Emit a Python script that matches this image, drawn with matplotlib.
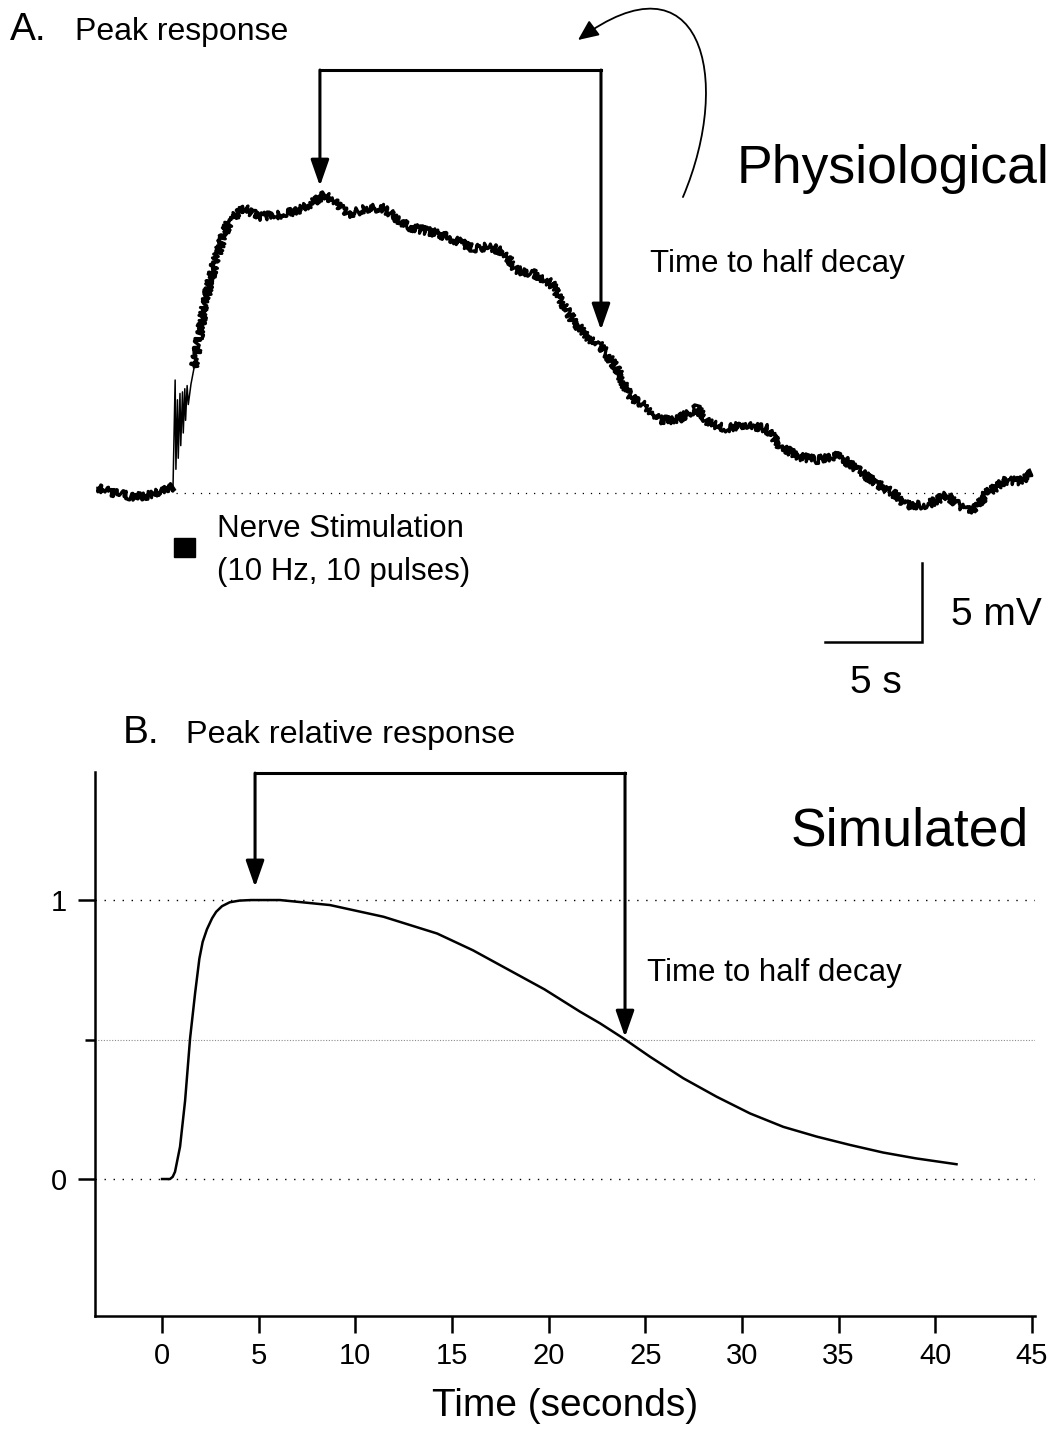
import matplotlib
matplotlib.use("Agg")
import matplotlib.pyplot as plt
from matplotlib.patches import Rectangle, FancyArrowPatch
from matplotlib.path import Path

plt.rcParams['font.family'] = ['Liberation Sans', 'DejaVu Sans']

W, H = 1057, 1434

# A. recorded response (time in s, potential in mV above baseline)
trace_t = [-3.32, -2.40, -1.47, -0.55, 0.19, 0.57, 0.68, 0.72, 0.80, 0.84,
           0.93, 0.97, 1.06, 1.10, 1.18, 1.22, 1.30, 1.36, 1.50, 1.67,
           2.04, 2.41, 2.78, 3.15, 3.52, 4.26, 5.00, 5.92, 6.84, 7.77,
           8.41, 9.06, 9.62, 10.54, 11.46, 12.02, 12.76, 14.23, 15.16, 16.08,
           17.00, 17.74, 18.30, 19.22, 20.14, 20.70, 21.26, 21.99, 22.73, 23.47,
           24.21, 25.08, 25.76, 26.63, 27.66, 28.35, 29.21, 30.07, 31.28, 31.97,
           33.01, 33.87, 34.99, 35.76, 36.97, 37.83, 38.53, 39.56, 40.59, 41.28,
           41.97, 42.66, 43.70, 44.39, 44.99]
trace_mv = [0.30, -0.02, -0.23, -0.13, 0.19, 0.40, 7.15, 1.50, 5.90, 2.20,
            6.30, 3.00, 6.40, 3.80, 6.60, 4.60, 6.80, 5.60, 6.90, 7.99,
            10.76, 13.06, 14.75, 16.22, 17.28, 18.02, 17.49, 17.59, 17.80, 18.34,
            18.86, 18.34, 17.59, 18.02, 18.02, 17.49, 16.85, 16.44, 16.01, 15.49,
            15.59, 15.17, 14.11, 13.91, 13.27, 12.01, 10.95, 9.89, 9.26, 7.99,
            6.09, 5.46, 4.62, 4.62, 5.36, 4.41, 4.09, 4.30, 4.09, 2.93,
            2.30, 2.09, 2.41, 1.66, 0.61, -0.02, -0.76, -0.76, -0.13, -0.87,
            -1.18, -0.02, 0.82, 0.72, 1.25]

stim_start = 0.6    # nerve stimulation, 10 Hz, 10 pulses
stim_dur = 1.1
stim_end = 1.67     # last point of the stimulus artefacts in the trace
baseline_end = 42.4

# B. simulated relative response
sim_t = [0.0, 0.41, 0.55, 0.67, 0.93, 1.19, 1.45, 1.71, 1.93, 2.1,
         2.32, 2.59, 2.8, 3.1, 3.5, 4.0, 4.6, 6.1, 8.69, 11.46,
         14.23, 16.08, 17.93, 19.78, 21.62, 22.66, 23.87, 25.25, 26.97, 28.69,
         30.42, 32.14, 33.87, 35.6, 37.3, 39.0, 41.1]
sim_v = [0.0, 0.0, 0.008, 0.026, 0.116, 0.28, 0.505, 0.667, 0.79, 0.85,
         0.895, 0.935, 0.958, 0.978, 0.992, 0.998, 1.0, 1.0, 0.982, 0.94,
         0.88, 0.82, 0.75, 0.68, 0.60, 0.558, 0.504, 0.438, 0.361, 0.295,
         0.235, 0.187, 0.152, 0.122, 0.095, 0.074, 0.053]

# arrow positions (peak / time to half decay)
peak_a = (8.17, 19.43)
half_a = (22.71, 10.32)
top_a = 26.77
peak_b = (4.81, 1.047)
half_b = (23.95, 0.509)
top_b = 1.455


def fpos(x, y):
    # pixel position -> figure fraction
    return x / W, 1 - y / H


def bracket(ax, p1, p2, top):
    ax.plot([p1[0], p2[0]], [top, top], color='black', lw=2.2,
            solid_capstyle='projecting', clip_on=False)
    for x, tip in (p1, p2):
        ax.annotate('', xy=(x, tip), xytext=(x, top), annotation_clip=False,
                    arrowprops=dict(arrowstyle='-|>,head_length=0.8,head_width=0.28',
                                    mutation_scale=20, lw=2.2, color='black',
                                    shrinkA=0, shrinkB=0))


fig = plt.figure(figsize=(W / 100, H / 100), dpi=100)

# ---- panel A ----
axA = fig.add_axes([0, 1 - 720 / H, 1, 720 / H])
axA.set_xlim(-162 / 19.33, (W - 162) / 19.33)
axA.set_ylim((493 - 720) / 15.8, 493 / 15.8)
axA.axis('off')

i0 = trace_t.index(stim_start - 0.03)
i1 = trace_t.index(stim_end)
# noisy recording
for sl in (slice(0, i0 + 1), slice(i1, None)):
    ln, = axA.plot(trace_t[sl], trace_mv[sl], color='black', lw=2.3)
    ln.set_sketch_params(scale=4.0, length=1.0, randomness=3)
# stimulus artefacts
axA.plot(trace_t[i0:i1 + 1], trace_mv[i0:i1 + 1], color='black', lw=1.1)

axA.hlines(0, stim_start + 0.1, baseline_end, colors='black', lw=0.9,
           linestyles=(0, (1, 5.5)))
axA.add_patch(Rectangle((stim_start, -4.05), stim_dur, 1.2, color='black'))

bracket(axA, peak_a, half_a, top_a)

curve = Path([(26.95, 18.73), (29.6, 26.4), (27.83, 34.4), (21.52, 28.67)],
             [Path.MOVETO, Path.CURVE4, Path.CURVE4, Path.CURVE4])
axA.add_patch(FancyArrowPatch(path=curve, arrowstyle='-|>,head_length=0.9,head_width=0.4',
                              mutation_scale=14, lw=1.3, color='black', clip_on=False))

# scale bar 5 s / 5 mV
sb_x, sb_y = 39.32, -9.43
axA.plot([sb_x - 5, sb_x, sb_x], [sb_y, sb_y, sb_y + 5], color='black', lw=1.8,
         solid_joinstyle='miter')
axA.text(40.82, -8.35, '5 mV', fontsize=28, va='baseline', ha='left')
axA.text(36.91, -12.66, '5 s', fontsize=28, va='baseline', ha='center')

fig.text(*fpos(10, 40), 'A.', fontsize=28, va='baseline')
fig.text(*fpos(75, 40), 'Peak response', fontsize=23, va='baseline')
fig.text(*fpos(737, 183), 'Physiological', fontsize=38.5, va='baseline')
fig.text(*fpos(650, 272), 'Time to half decay', fontsize=22.5, va='baseline')
fig.text(*fpos(217, 537), 'Nerve Stimulation', fontsize=22.5, va='baseline')
fig.text(*fpos(217, 580), '(10 Hz, 10 pulses)', fontsize=22.5, va='baseline')

# ---- panel B ----
axB = fig.add_axes([95 / W, 1 - 1316 / H, 940 / W, (1316 - 772) / H])
axB.set_xlim(-3.47, 45.16)
axB.set_ylim(-0.491, 1.459)

axB.axhline(1, color='black', lw=1.0, ls=(0, (1, 5.5)))
axB.axhline(0, color='black', lw=1.0, ls=(0, (1, 5.5)))
axB.axhline(0.5, color='0.55', lw=0.8, ls=(0, (1, 1.5)))
axB.plot(sim_t, sim_v, color='black', lw=1.8)

bracket(axB, peak_b, half_b, top_b)

for s in ('top', 'right'):
    axB.spines[s].set_visible(False)
for s in ('left', 'bottom'):
    axB.spines[s].set_linewidth(1.8)

axB.set_xticks(range(0, 50, 5))
axB.set_yticks([0, 1])
axB.set_yticklabels(['0', '1'])
axB.set_yticks([0.5], minor=True)
axB.tick_params(axis='x', length=12, width=1.8, labelsize=21, pad=7)
axB.tick_params(axis='y', which='major', length=12, width=1.8, labelsize=21, pad=8)
axB.tick_params(axis='y', which='minor', length=7, width=1.8)
axB.set_xlabel('Time (seconds)', fontsize=28, labelpad=13)

fig.text(*fpos(123, 743), 'B.', fontsize=28, va='baseline')
fig.text(*fpos(186, 743), 'Peak relative response', fontsize=23.3, va='baseline')
fig.text(*fpos(791, 845), 'Simulated', fontsize=38.5, va='baseline')
fig.text(*fpos(647, 981), 'Time to half decay', fontsize=22.5, va='baseline')

fig.savefig('out.png', dpi=100)
